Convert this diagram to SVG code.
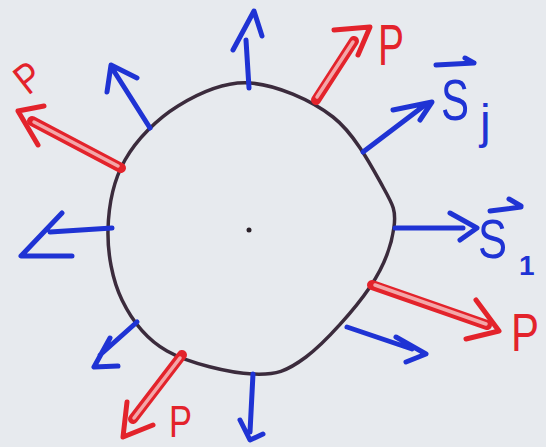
<svg xmlns="http://www.w3.org/2000/svg" width="546" height="447" viewBox="0 0 546 447">
  <style>
    .bg { fill: #e7eaee; }
    .body { fill: none; stroke: #3b2b3c; stroke-width: 3.5; stroke-linejoin: round; }
    .dot { fill: #2a2028; }
    .b { fill: none; stroke: #1f33d4; stroke-width: 5; stroke-linecap: round; stroke-linejoin: round; }
    .rs { fill: none; stroke: #e3232b; stroke-width: 10; stroke-linecap: round; }
    .ri { fill: none; stroke: #f3a6a8; stroke-width: 3.5; stroke-linecap: round; }
    .rh { fill: none; stroke: #e3232b; stroke-width: 5; stroke-linecap: round; stroke-linejoin: round; }
    .pl { fill: #e3232b; font-family: "Liberation Sans", Arial, sans-serif; }
    .sl { fill: #1f33d4; font-family: "Liberation Sans", Arial, sans-serif; }
  </style>
  <rect class="bg" x="0" y="0" width="546" height="447"/>

  <g id="body">
    <path class="body" d="M250,83 C275.8,84.8 310.8,99.7 333,117 C355.2,134.3 372.8,168.7 383,187 C393.2,205.3 396.2,210.3 394,227 C391.8,243.7 384.7,265.3 370,287 C355.3,308.7 325.5,342.5 306,357 C286.5,371.5 276.2,375 253,374 C229.8,373 188.8,363.3 167,351 C145.2,338.7 131.8,320.2 122,300 C112.2,279.8 107.5,253.3 108,230 C108.5,206.7 113.3,180.7 125,160 C136.7,139.3 157.2,118.8 178,106 C198.8,93.2 224.2,81.2 250,83 Z"/>
    <circle class="dot" cx="249" cy="230" r="2.5"/>
  </g>

  <g id="connectors">
    <g id="forces-blue">
      <path class="b" d="M249,88 L246,40 M233,50 L254,11 L262,36"/>
      <path class="b" d="M150,128 L112,68 M107,92 L111,65 L137,78"/>
      <path class="b" d="M363,152 L425,105 M393,110 L432,102 L420,120"/>
      <path class="b" d="M395,228 L463,228 M450,213 L477,228 L460,240"/>
      <path class="b" d="M347,327 L412,349 M396,337 L426,354 L406,362"/>
      <path class="b" d="M253,374 L250,432 M240,420 L250,440 L263,434"/>
      <path class="b" d="M137,322 L100,355 M110,338 L94,367 L118,366"/>
      <path class="b" d="M112,228 L50,232 M62,213 L21,256 L72,256"/>
    </g>
    <g id="forces-red">
      <path class="rs" d="M121,168 L32,121"/>
      <path class="ri" d="M118,166 L34,122"/>
      <path class="rh" d="M44,106 L18,111 L38,145"/>

      <path class="rs" d="M316,100 L354,41"/>
      <path class="ri" d="M317,97 L353,42"/>
      <path class="rh" d="M334,30 L370,27 L358,55"/>

      <path class="rs" d="M372,285 L487,325"/>
      <path class="ri" d="M375,285 L486,324"/>
      <path class="rh" d="M476,300 L499,331 L466,339"/>

      <path class="rs" d="M182,355 L133,419"/>
      <path class="ri" d="M180,358 L134,418"/>
      <path class="rh" d="M127,402 L123,437 L153,425"/>
    </g>
  </g>

  <g id="label-p-upper-left">
    <text class="pl" font-size="42" transform="translate(28,96) rotate(-38)" textLength="23" lengthAdjust="spacingAndGlyphs">P</text>
  </g>
  <g id="label-p-upper-right">
    <text class="pl" x="378" y="65" font-size="58" textLength="26" lengthAdjust="spacingAndGlyphs">P</text>
  </g>
  <g id="label-p-lower-right">
    <text class="pl" x="511" y="351" font-size="54" textLength="28" lengthAdjust="spacingAndGlyphs">P</text>
  </g>
  <g id="label-p-lower-left">
    <text class="pl" x="169" y="437" font-size="44" textLength="23" lengthAdjust="spacingAndGlyphs">P</text>
  </g>

  <g id="label-sj">
    <path class="b" d="M436,65 L474,63 M465,58 L474,63"/>
    <text class="sl" x="441" y="120" font-size="58" textLength="28" lengthAdjust="spacingAndGlyphs">S</text>
    <text class="sl" x="480" y="138" font-size="48">j</text>
  </g>
  <g id="label-s1">
    <path class="b" d="M490,211 L521,207 M509,199 L521,206"/>
    <text class="sl" x="478" y="258" font-size="56" textLength="29" lengthAdjust="spacingAndGlyphs">S</text>
    <text class="sl" x="519" y="275" font-size="28" font-weight="bold">1</text>
  </g>
</svg>
